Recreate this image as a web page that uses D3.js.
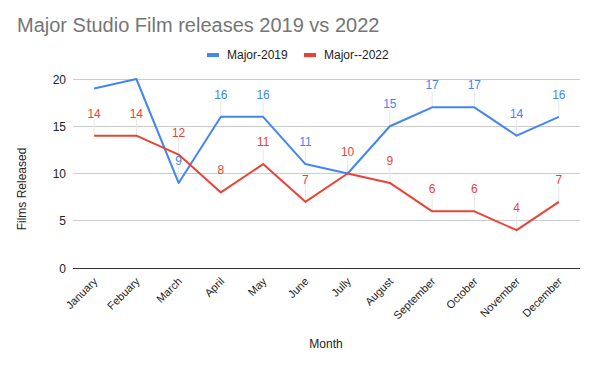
<!DOCTYPE html>
<html><head><meta charset="utf-8">
<script src="https://cdn.jsdelivr.net/npm/d3@7"></script>
<style>body{margin:0;background:#fff;font-family:Arial,"Liberation Sans",sans-serif;}</style>
</head><body><svg id="c" width="594" height="366"></svg>
<script>
const months = ["January","Febuary","March","April","May","June","Jully","August","September","October","November","December"];
const major2019 = [19,20,9,16,16,11,10,15,17,17,14,16];
const major2022 = [14,14,12,8,11,7,10,9,6,6,4,7];
const labels2019 = [false,false,true,true,true,true,false,true,true,true,true,true];
const labels2022 = [true,true,true,true,true,true,true,true,true,true,true,true];
const yTicks = [0,5,10,15,20];
const seriesNames = ["Major-2019","Major--2022"];
const colors = ["#4285F4","#EA4335"];

const svg = d3.select("#c");
const m = {l:73, r:580, t:79, b:268};
const x = d3.scaleBand().domain(months).range([m.l, m.r]);
const y = d3.scaleLinear().domain([0,20]).range([m.b, m.t]);
const cx = d => x(d) + x.bandwidth()/2;

svg.append("text").attr("x",17).attr("y",32).attr("fill","#757575").attr("font-size",20).text("Major Studio Film releases 2019 vs 2022");

// grid
svg.append("g").selectAll("line").data(yTicks.filter(t=>t>0)).join("line")
  .attr("x1",m.l).attr("x2",m.r).attr("y1",d=>y(d)).attr("y2",d=>y(d)).attr("stroke","#ccc").attr("stroke-width",1).attr("shape-rendering","crispEdges");
svg.append("g").selectAll("text").data(yTicks).join("text")
  .attr("x",66).attr("y",d=>y(d)+4.5).attr("text-anchor","end").attr("font-size",12).attr("fill","#222").text(d=>d);

// legend
const lg = [{x:207,tx:227},{x:304,tx:324}];
seriesNames.forEach((n,i)=>{
  svg.append("rect").attr("x",lg[i].x).attr("y",53).attr("width",12).attr("height",4).attr("fill",colors[i]);
  svg.append("text").attr("x",lg[i].tx).attr("y",59).attr("font-size",12).attr("fill","#222").text(n);
});

const series = [[major2019,labels2019],[major2022,labels2022]];
const line = d3.line().x((d,i)=>cx(months[i])).y(d=>y(d));
// leader lines
series.forEach(([vals,show],si)=>{
  svg.append("g").selectAll("line").data(vals.map((v,i)=>({v,i})).filter(d=>show[d.i])).join("line")
    .attr("x1",d=>cx(months[d.i])).attr("x2",d=>cx(months[d.i]))
    .attr("y1",d=>y(d.v)-16).attr("y2",d=>y(d.v)).attr("stroke","#e6e6e6").attr("stroke-width",1);
});
series.forEach(([vals],si)=>{
  svg.append("path").datum(vals).attr("d",line).attr("fill","none").attr("stroke",colors[si]).attr("stroke-width",2).attr("stroke-linejoin","round");
});
series.forEach(([vals,show],si)=>{
  svg.append("g").selectAll("text").data(vals.map((v,i)=>({v,i})).filter(d=>show[d.i])).join("text")
    .attr("x",d=>cx(months[d.i])).attr("y",d=>y(d.v)-18).attr("text-anchor","middle").attr("font-size",12).attr("fill",colors[si]).text(d=>d.v);
});

// baseline
svg.append("line").attr("x1",m.l).attr("x2",m.r).attr("y1",y(0)).attr("y2",y(0)).attr("stroke","#333").attr("stroke-width",1).attr("shape-rendering","crispEdges");

// x labels
svg.append("g").selectAll("text").data(months).join("text")
  .attr("transform",d=>`translate(${cx(d)+4},${y(0)+14}) rotate(-45)`).attr("text-anchor","end").attr("font-size",11).attr("fill","#222").text(d=>d);

svg.append("text").attr("x",326).attr("y",348).attr("text-anchor","middle").attr("font-size",12).attr("fill","#222").text("Month");
svg.append("text").attr("transform","translate(26,189) rotate(-90)").attr("text-anchor","middle").attr("font-size",12).attr("fill","#222").text("Films Released");
</script></body></html>
